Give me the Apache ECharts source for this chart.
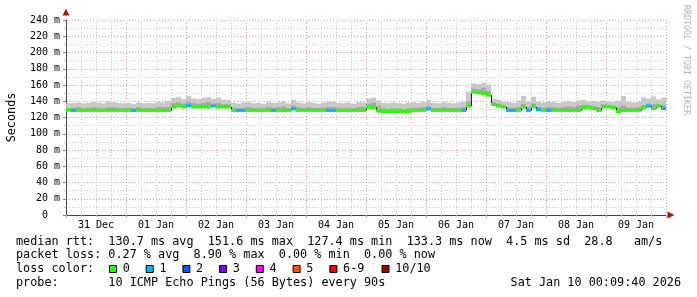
<!DOCTYPE html>
<html><head><meta charset="utf-8">
<script src="https://cdn.jsdelivr.net/npm/echarts@6/dist/echarts.min.js"></script>
<style>html,body{margin:0;padding:0;background:#fff}#c{width:697px;height:297px}</style>
</head><body><div id="c"></div>
<script>
// ---- data ----
const stepHours = 2;                 // each value covers 2 hours, starting Dec 31 00:00
const dayLabels = ['31 Dec','01 Jan','02 Jan','03 Jan','04 Jan','05 Jan','06 Jan','07 Jan','08 Jan','09 Jan'];
const median = [
  129.3,128.7,128.7,128.7,128.7,128.7,128.7,128.7,128.7,128.7,
  128.7,128.7,128.7,128.7,128.7,128.7,128.7,128.7,128.7,128.7,
  128.7,133,134.2,133,134.5,133,133,133,133,134.2,
  133,133,133,128.7,128.7,128.7,128.7,128.7,128.7,128.7,
  128.7,128.7,128.7,128.7,128.7,130.5,128.7,128.7,128.7,128.7,
  128.7,128.7,128.7,128.7,128.7,128.7,128.7,128.7,128.7,128.7,
  132.5,132.5,128,127.4,127.4,127.4,127.4,127.4,127.4,128.7,
  128.7,128.7,130.5,128.7,128.7,128.7,128.7,128.7,128.7,128.7,
  134,151.2,150.5,149.5,147.5,136,134,133,128.7,128.7,
  128.7,133,128.7,133,129.5,128.7,128.7,128.7,128.7,128.7,
  128.7,128.7,128.7,132,132.5,131,128.7,133,133,132,
  127.4,128.7,128.7,128.7,128.7,132,134,131,134,131
];
const lossCount = [
  0,1,0,0,0,0,0,0,0,0,
  0,0,0,1,0,0,0,0,0,0,
  0,0,0,0,1,0,0,0,0,1,
  0,0,0,0,1,1,0,0,0,0,
  0,1,0,0,0,1,0,0,0,0,
  0,0,1,1,0,0,0,0,0,0,
  0,0,0,0,0,0,0,0,0,0,
  0,0,1,0,0,0,0,0,0,1,
  0,0,0,0,0,0,0,0,1,1,
  0,0,1,0,1,0,1,0,0,0,
  0,0,0,0,0,0,0,0,0,0,
  0,0,0,0,0,0,1,0,0,1
];
const smokeMid = [
  132,132.5,133,132,132.5,133,132.5,132,133,133.5,
  132.5,132,132.5,132,133,132,132.5,132,133,133,
  133.5,138,139,137.5,139.5,138,137,138.5,139,137.5,
  138.5,137,136.5,132.5,132,132.5,133,132,132.5,132,
  133.5,132.5,133,134,132,135,133,132,133,132.5,
  132,132.5,133.5,133,132.5,132,132.5,132,133,133,
  137.5,138.5,135,131.5,131,132,131.5,131,132,132.5,
  132.5,133,135,132.5,132,133,132.5,132,132.5,133.5,
  140,156,155,157,153.5,139,137.5,136,133,132.5,
  133.5,137,133,137.5,133,132.5,133.5,133,132.5,133,
  134,133,135,136,135.5,134.5,133,136.5,136,135,
  133.5,135,132.5,132.5,133,136,137.5,136.5,136.5,135.5
];
const smokeHi = [
  137.5,138,138.5,137.5,138,139,138.5,137.5,139.5,139,
  138,137.5,138,137,138.5,137.5,138,137.5,139,138.5,
  140,144,145.5,143,146.5,143.5,142.5,144,145,143,
  144.5,142,141.5,138,137,138.5,139,137.5,138,137,
  139.5,138,138.5,140,137.5,142,138.5,137.5,139,138,
  137,138.5,140,139.5,138,137.5,138.5,137,139,138.5,
  143.5,144.5,141,138,137.5,138.5,138,137,138.5,139,
  138,139,141.5,138,137.5,139,138,137.5,138.5,139.5,
  152,162,161,163,160.5,143,142,140,139,138,
  141,146.5,140,145.5,139.5,138.5,140,139,138,139.5,
  140.5,139,141,141.5,140,140.5,139.5,141,140,139,
  140.5,146.5,139,138.5,139.5,145,143.5,146,142.5,144.5
];
const lossLabels = ['0','1','2','3','4','5','6-9','10/10'];
const lossColors = ['#26ff00','#00b8ff','#0059ff','#7e00ff','#ff00ff','#ff5500','#ff0000','#a10000'];
const statLine1 = 'median rtt:  130.7 ms avg  151.6 ms max  127.4 ms min  133.3 ms now  4.5 ms sd  28.8   am/s';
const statLine2 = 'packet loss: 0.27 % avg  8.90 % max  0.00 % min  0.00 % now';
const lossTitle = 'loss color:';
const probeLine = 'probe:       10 ICMP Echo Pings (56 Bytes) every 90s';
const dateText = 'Sat Jan 10 00:09:40 2026';
const watermark = 'RRDTOOL / TOBI OETIKER';

// ---- build ----
const MONO = '"DejaVu Sans Mono", monospace';
const legendFont = '11.8px ' + MONO;
function lossIdx(n){ return n <= 5 ? n : (n < 10 ? 6 : 7); }
const smokeData = median.map((m,i)=>[i*stepHours, m, smokeMid[i], smokeHi[i]]);
const medData = median.map((m,i)=>[i*stepHours, m, lossCount[i]]);
const stepData = [];
for (let i=0;i<median.length-1;i++) stepData.push([(i+1)*stepHours, median[i], median[i+1]]);

function band(loDim, hiDim, color){
  return function(params, api){
    const h = api.value(0);
    const a = api.coord([h, api.value(loDim)]);
    const b = api.coord([h + stepHours, api.value(hiDim)]);
    return {type:'rect', shape:{x:a[0], y:b[1], width:b[0]-a[0], height:a[1]-b[1]}, style:{fill:color}};
  };
}

const gridMajor = {color:'#dd9a9a', type:[1,2], width:1};
const gridMinor = {color:'#cccccc', type:[1,2], width:1};

const graphics = [];
function txt(x, y, s, align, extra){
  graphics.push(Object.assign({type:'text', x:x, y:y, silent:true,
    style:{text:s, font:legendFont, fill:'#000', align:align||'left', verticalAlign:'middle'}}, extra||{}));
}
txt(16, 241.6, statLine1);
txt(16, 255.3, statLine2);
txt(16, 269, lossTitle);
txt(16, 282.7, probeLine);
txt(681, 282.7, dateText, 'right');
const boxX = [109, 145.7, 182.4, 219.1, 255.8, 292.6, 329.4, 381.5];
lossLabels.forEach((lab, i)=>{
  graphics.push({type:'rect', silent:true, shape:{x:boxX[i]+0.5, y:265.5, width:7, height:7},
    style:{fill:lossColors[i], stroke:'#000', lineWidth:1}});
  txt(boxX[i]+13.7, 269, lab);
});
graphics.push({type:'text', x:686, y:5, rotation:-Math.PI/2, silent:true,
  style:{text:watermark, font:'8.3px ' + MONO, fill:'#b4b4b4', align:'left', verticalAlign:'middle'}});

const chart = echarts.init(document.getElementById('c'), null, {renderer:'canvas'});
chart.setOption({
  animation:false,
  backgroundColor:'#ffffff',
  grid:{left:66, top:20, width:600, height:195, containLabel:false, outerBoundsMode:'none'},
  xAxis:[
    {type:'value', min:0, max:240, interval:24,
     axisLine:{show:true, onZero:false, lineStyle:{color:'#444', width:1}},
     axisTick:{show:true, length:3, lineStyle:{color:'#dd9a9a'}},
     minorTick:{show:true, splitNumber:4, length:2, lineStyle:{color:'#cccccc'}},
     axisLabel:{show:false},
     splitLine:{show:true, lineStyle:gridMajor},
     minorSplitLine:{show:true, lineStyle:gridMinor}},
    {type:'value', min:0, max:240, interval:12, position:'bottom',
     axisLine:{show:true, onZero:false, symbol:['none','triangle'], symbolSize:[7,7], symbolOffset:[0,5],
               lineStyle:{color:'#9e1a1a', width:0}},
     axisTick:{show:false}, splitLine:{show:false},
     axisLabel:{show:true, margin:5, fontFamily:'DejaVu Sans Mono', fontSize:10, color:'#000',
       formatter:function(v){ return (v % 24 === 12) ? dayLabels[(v-12)/24] : ''; }}}
  ],
  yAxis:[
    {type:'value', min:0, max:240, interval:20,
     name:'Seconds', nameLocation:'middle', nameRotate:90, nameGap:48,
     nameTextStyle:{fontFamily:'DejaVu Sans Mono', fontSize:11.8, color:'#000'},
     axisLine:{show:true, onZero:false, lineStyle:{color:'#444', width:1}},
     axisTick:{show:true, length:3, lineStyle:{color:'#888'}},
     minorTick:{show:true, splitNumber:2, length:2, lineStyle:{color:'#cccccc'}},
     axisLabel:{margin:6, fontFamily:'DejaVu Sans Mono', fontSize:10, color:'#000',
       formatter:function(v){ return v === 0 ? '0  ' : v + ' m'; }},
     splitLine:{show:true, lineStyle:gridMajor},
     minorSplitLine:{show:true, lineStyle:gridMinor}},
    {type:'value', min:0, max:240, position:'left',
     axisLine:{show:true, onZero:false, symbol:['none','triangle'], symbolSize:[7,7], symbolOffset:[0,8],
               lineStyle:{color:'#9e1a1a', width:0}},
     axisTick:{show:false}, axisLabel:{show:false}, splitLine:{show:false}}
  ],
  series:[
    {type:'custom', name:'smoke light', xAxisIndex:0, yAxisIndex:0, clip:true, silent:true,
     data:smokeData, renderItem:band(2,3,'#c8c8c8')},
    {type:'custom', name:'smoke dark', xAxisIndex:0, yAxisIndex:0, clip:true, silent:true,
     data:smokeData, renderItem:band(1,2,'#a8a8a8')},
    {type:'custom', name:'median steps', xAxisIndex:0, yAxisIndex:0, clip:true, silent:true,
     data:stepData, renderItem:function(params, api){
       const a = api.coord([api.value(0), api.value(1)]);
       const b = api.coord([api.value(0), api.value(2)]);
       const x = Math.round(a[0]) + 0.5;
       return {type:'line', shape:{x1:x, y1:a[1], x2:x, y2:b[1]}, style:{stroke:'#202020', lineWidth:1}};
     }},
    {type:'custom', name:'median rtt', xAxisIndex:0, yAxisIndex:0, clip:true, silent:true,
     data:medData, renderItem:function(params, api){
       const h = api.value(0), m = api.value(1);
       const a = api.coord([h, m]);
       const b = api.coord([h + stepHours, m]);
       return {type:'rect', shape:{x:a[0], y:a[1]-1.5, width:b[0]-a[0], height:3},
               style:{fill:lossColors[lossIdx(api.value(2))]}};
     }}
  ],
  graphic:graphics
});
</script></body></html>
